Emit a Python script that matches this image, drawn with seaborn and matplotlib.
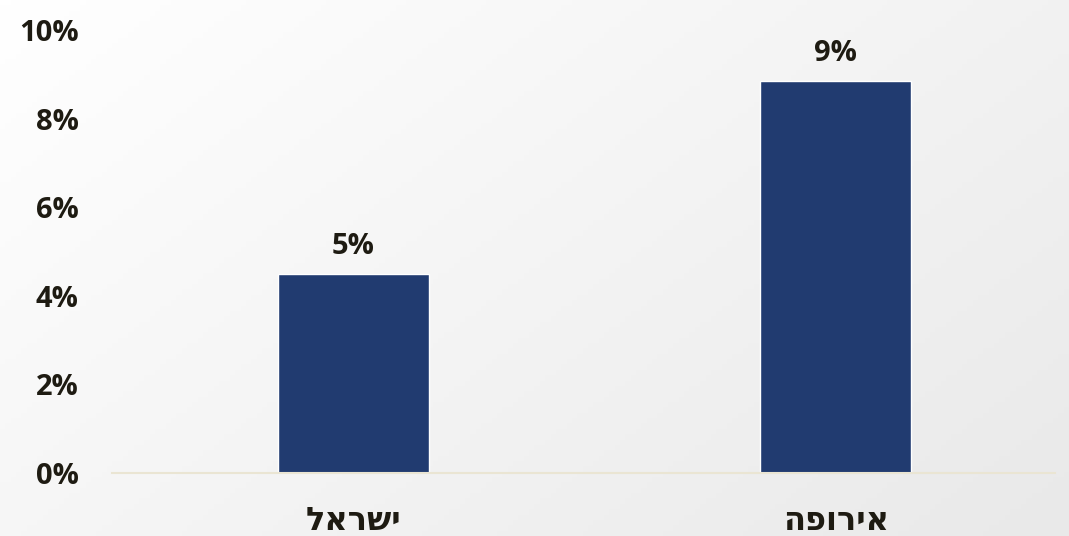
#!/usr/bin/env python3
# bar chart: Israel vs Europe, percentage values with labels above bars

import numpy as np
import pandas as pd
import seaborn as sns
import matplotlib.pyplot as plt
from matplotlib.ticker import PercentFormatter

regions = ['ישראל', 'אירופה']
values = [0.045, 0.0885]
value_labels = ['5%', '9%']
yticks = [0.0, 0.02, 0.04, 0.06, 0.08, 0.10]

BAR_COLOR = '#213B70'
TEXT_COLOR = '#1E1B12'


def rtl(s):
    # matplotlib has no bidi support, reverse hebrew for display
    return s[::-1]


def create_plot(output='out.png'):
    sns.set_theme(style='white')
    plt.rcParams['font.family'] = ['Open Sans', 'DejaVu Sans']

    fig = plt.figure(figsize=[10.69, 5.36], dpi=100)

    # soft background gradient (white top-left to light grey bottom-right)
    bg = fig.add_axes([0, 0, 1, 1], zorder=-10)
    xx, yy = np.meshgrid(np.linspace(0, 1, 200), np.linspace(0, 1, 100))
    grad = 0.6 * xx + 0.4 * yy
    bg.imshow(grad, cmap=sns.blend_palette(['#FFFFFF', '#E9E9E9'], as_cmap=True),
              aspect='auto', extent=[0, 1, 0, 1], origin='upper')
    bg.set_axis_off()

    ax = fig.add_axes([112 / 1069, 1 - 473 / 536, 943 / 1069, 443 / 536])
    ax.patch.set_alpha(0)

    data = pd.DataFrame({'region': regions, 'value': values})
    sns.barplot(data=data, x='region', y='value', color=BAR_COLOR,
                saturation=1, width=0.313, ax=ax)

    for patch, lbl in zip(ax.patches, value_labels):
        ax.annotate(lbl, (patch.get_x() + patch.get_width() / 2, patch.get_height()),
                    xytext=(0, 9), textcoords='offset points',
                    ha='center', va='bottom', fontsize=21, fontweight='bold',
                    color=TEXT_COLOR)

    ax.set_xlim(-0.5, 1.454)
    ax.set_ylim(0, 0.10)
    ax.set_yticks(yticks)
    ax.yaxis.set_major_formatter(PercentFormatter(1.0, decimals=0))
    ax.set_xticks(range(len(regions)))
    ax.set_xticklabels([rtl(r) for r in regions])
    ax.tick_params(axis='y', length=0, pad=24, labelsize=21, labelcolor=TEXT_COLOR)
    ax.tick_params(axis='x', length=0, pad=23, labelsize=23, labelcolor=TEXT_COLOR)
    for lab in ax.get_xticklabels() + ax.get_yticklabels():
        lab.set_fontweight('bold')
    ax.set_xlabel('')
    ax.set_ylabel('')

    sns.despine(ax=ax, left=True)
    ax.spines['bottom'].set_color('#EAE5D3')
    ax.spines['bottom'].set_linewidth(1.5)

    plt.savefig(output, dpi=100)


if __name__ == '__main__':
    create_plot()
